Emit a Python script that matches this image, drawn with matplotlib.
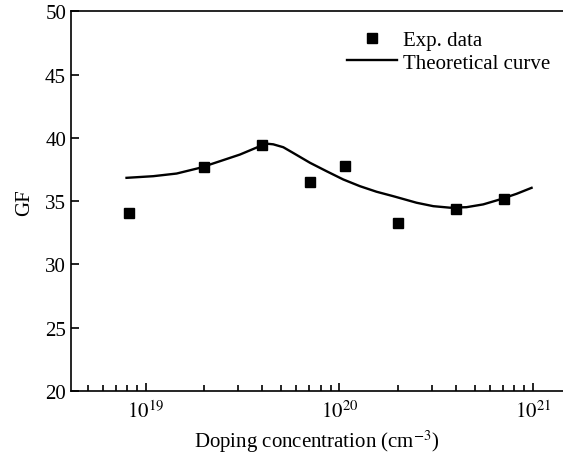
import matplotlib
matplotlib.use("Agg")
import matplotlib.pyplot as plt
from matplotlib.ticker import LogLocator, FixedFormatter, FixedLocator, NullFormatter

plt.rcParams['font.family'] = ['Liberation Serif', 'DejaVu Serif']
plt.rcParams['mathtext.fontset'] = 'stix'

# experimental points (doping in cm^-3, gauge factor)
exp_conc = [8.2e18, 2.0e19, 4.0e19, 7.05e19, 1.07e20, 2.0e20, 4.0e20, 7.1e20]
exp_gf = [34.1, 37.7, 39.45, 36.55, 37.8, 33.3, 34.4, 35.2]

# theoretical curve (log10 of concentration)
curve_logc = [18.900, 19.038, 19.159, 19.279, 19.382, 19.486, 19.589, 19.625,
              19.658, 19.710, 19.761, 19.848, 19.934, 20.020, 20.106, 20.192,
              20.278, 20.313, 20.399, 20.485, 20.571, 20.657, 20.743, 20.829,
              20.916, 20.993]
curve_gf = [36.85, 36.98, 37.19, 37.64, 38.16, 38.69, 39.35, 39.55,
            39.50, 39.27, 38.82, 38.04, 37.37, 36.72, 36.19, 35.75,
            35.40, 35.25, 34.88, 34.61, 34.49, 34.53, 34.75, 35.14,
            35.59, 36.06]

y_ticks = [20, 25, 30, 35, 40, 45, 50]
x_major = [1e19, 1e20, 1e21]
x_major_labels = ['$10^{19}$', '$10^{20}$', '$10^{21}$']

fig = plt.figure(figsize=(5.63, 4.56), dpi=100)
ax = fig.add_axes([0.126, 0.1404, 0.874, 0.8322])

ax.plot([10 ** v for v in curve_logc], curve_gf, color='black', lw=1.7,
        label='Theoretical curve')
ax.plot(exp_conc, exp_gf, linestyle='none', marker='s', ms=7.5,
        color='black', label='Exp. data')

ax.set_xscale('log')
ax.set_xlim(4.1e18, 1.43e21)
ax.set_ylim(20, 50)

ax.xaxis.set_major_locator(FixedLocator(x_major))
ax.xaxis.set_major_formatter(FixedFormatter(x_major_labels))
ax.xaxis.set_minor_locator(LogLocator(base=10, subs=range(2, 10)))
ax.xaxis.set_minor_formatter(NullFormatter())
ax.set_yticks(y_ticks)

ax.tick_params(axis='both', which='major', direction='in', length=6,
               width=1.2, labelsize=15, top=False, right=False)
ax.tick_params(axis='x', which='minor', direction='in', length=4, width=1.2,
               top=False)
ax.tick_params(axis='x', which='major', pad=7)

for side in ['left', 'bottom', 'top']:
    ax.spines[side].set_linewidth(1.2)
ax.spines['right'].set_visible(False)

ax.set_xlabel('Doping concentration (cm$^{-3}$)', fontsize=15, labelpad=4)
ax.set_ylabel('GF', fontsize=15, labelpad=8)

handles, labels = ax.get_legend_handles_labels()
ax.legend(handles[::-1], labels[::-1], loc='upper right',
          bbox_to_anchor=(1.012, 1.0), frameon=False, fontsize=15,
          handlelength=2.4, handletextpad=0.3, labelspacing=0.15)

fig.savefig('out.png', dpi=100)
